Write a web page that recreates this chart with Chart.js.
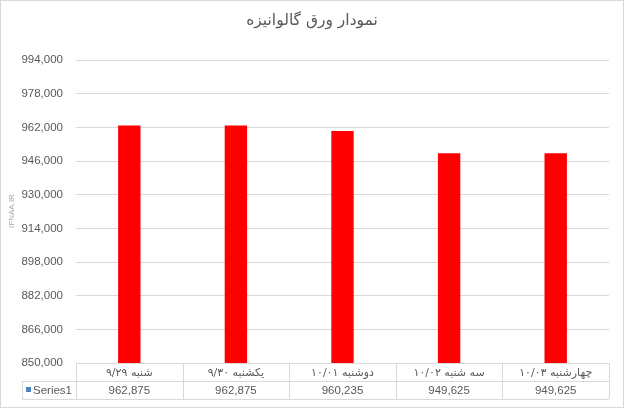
<!DOCTYPE html>
<html>
<head>
<meta charset="utf-8">
<script src="https://cdn.jsdelivr.net/npm/chart.js@4"></script>
<style>
    html, body { margin: 0; padding: 0; background: #fff; }
    #wrap { width: 624px; height: 408px; }
</style>
</head>
<body>
<div id="wrap"><canvas id="chart" width="624" height="408"></canvas></div>
<script>
// Daten des Diagramms
var chartTitle = 'نمودار ورق گالوانیزه';
var categories = ['شنبه ۹/۲۹', 'یکشنبه ۹/۳۰', 'دوشنبه ۱۰/۰۱', 'سه شنبه ۱۰/۰۲', 'چهارشنبه ۱۰/۰۳'];
var seriesName = 'Series1';
var seriesValues = [962875, 962875, 960235, 949625, 949625];
var yMin = 850000;
var yMax = 994000;
var yStep = 16000;

var textColor = '#595959';
var lineColor = '#d9d9d9';

function formatNumber(n) {
    return n.toLocaleString('en-US');
}

/**
 * Titel, Rahmen, Wasserzeichen und Datentabelle zeichnen
 */
var excelPlugin = {
    id: 'excelTable',
    afterDraw: function(chart) {
        var ctx = chart.ctx;
        var area = chart.chartArea;
        var xScale = chart.scales.x;
        var top = area.bottom;
        var rowH = 18;
        var left = 22;
        var n = categories.length;
        var step = (area.right - area.left) / n;

        ctx.save();

        // Rahmen
        ctx.strokeStyle = lineColor;
        ctx.lineWidth = 1;
        ctx.strokeRect(0.5, 0.5, chart.width - 1, chart.height - 1);

        // Titel
        ctx.fillStyle = textColor;
        ctx.font = '15.5px "DejaVu Sans"';
        ctx.textAlign = 'center';
        ctx.textBaseline = 'middle';
        ctx.direction = 'rtl';
        ctx.fillText(chartTitle, chart.width / 2, 21);

        // Wasserzeichen
        ctx.save();
        ctx.translate(12, 211);
        ctx.rotate(-Math.PI / 2);
        ctx.direction = 'ltr';
        ctx.fillStyle = '#a6a6a6';
        ctx.font = '8px "Liberation Sans"';
        ctx.fillText('IFNAA.IR', 0, 0);
        ctx.restore();

        // Tabellenlinien
        ctx.beginPath();
        ctx.moveTo(area.left, top + 0.5);
        ctx.lineTo(area.right, top + 0.5);
        ctx.moveTo(left, top + rowH + 0.5);
        ctx.lineTo(area.right, top + rowH + 0.5);
        ctx.moveTo(left, top + 2 * rowH + 0.5);
        ctx.lineTo(area.right, top + 2 * rowH + 0.5);
        ctx.moveTo(left + 0.5, top + rowH);
        ctx.lineTo(left + 0.5, top + 2 * rowH);
        for (var i = 0; i <= n; i++) {
            var x = Math.round(area.left + i * step) + 0.5;
            ctx.moveTo(x, top);
            ctx.lineTo(x, top + 2 * rowH);
        }
        ctx.stroke();

        // Kategorien und Werte
        categories.forEach(function(cat, i) {
            var cx = xScale.getPixelForValue(i);
            ctx.fillStyle = textColor;
            ctx.direction = 'rtl';
            ctx.font = '11px "DejaVu Sans"';
            ctx.fillText(cat, cx, top + rowH / 2 + 1);
            ctx.direction = 'ltr';
            ctx.font = '11.5px "Liberation Sans"';
            ctx.fillText(formatNumber(seriesValues[i]), cx, top + rowH * 1.5 + 1);
        });

        // Legendenschluessel
        ctx.fillStyle = '#4f81bd';
        ctx.fillRect(26, top + rowH + 6, 5, 5);
        ctx.fillStyle = textColor;
        ctx.textAlign = 'left';
        ctx.direction = 'ltr';
        ctx.font = '11.5px "Liberation Sans"';
        ctx.fillText(seriesName, 33, top + rowH * 1.5 + 1);

        ctx.restore();
    }
};

var ctx = document.getElementById('chart').getContext('2d');
new Chart(ctx, {
    type: 'bar',
    data: {
        labels: categories,
        datasets: [{
            label: seriesName,
            data: seriesValues,
            backgroundColor: '#ff0000',
            borderWidth: 0,
            categoryPercentage: 1,
            barPercentage: 0.21
        }]
    },
    options: {
        responsive: false,
        animation: false,
        layout: {
            padding: { top: 60, bottom: 45, right: 15, left: 0 }
        },
        plugins: {
            legend: { display: false },
            title: { display: false },
            tooltip: { enabled: false }
        },
        scales: {
            x: {
                display: false
            },
            y: {
                min: yMin,
                max: yMax,
                afterFit: function(scale) {
                    scale.width = 76;
                },
                border: { display: false },
                grid: {
                    color: lineColor,
                    drawTicks: false
                },
                ticks: {
                    stepSize: yStep,
                    padding: 13,
                    color: textColor,
                    font: { family: 'Liberation Sans', size: 11.5 },
                    callback: function(v) { return formatNumber(v); }
                }
            }
        }
    },
    plugins: [excelPlugin]
});
</script>
</body>
</html>
